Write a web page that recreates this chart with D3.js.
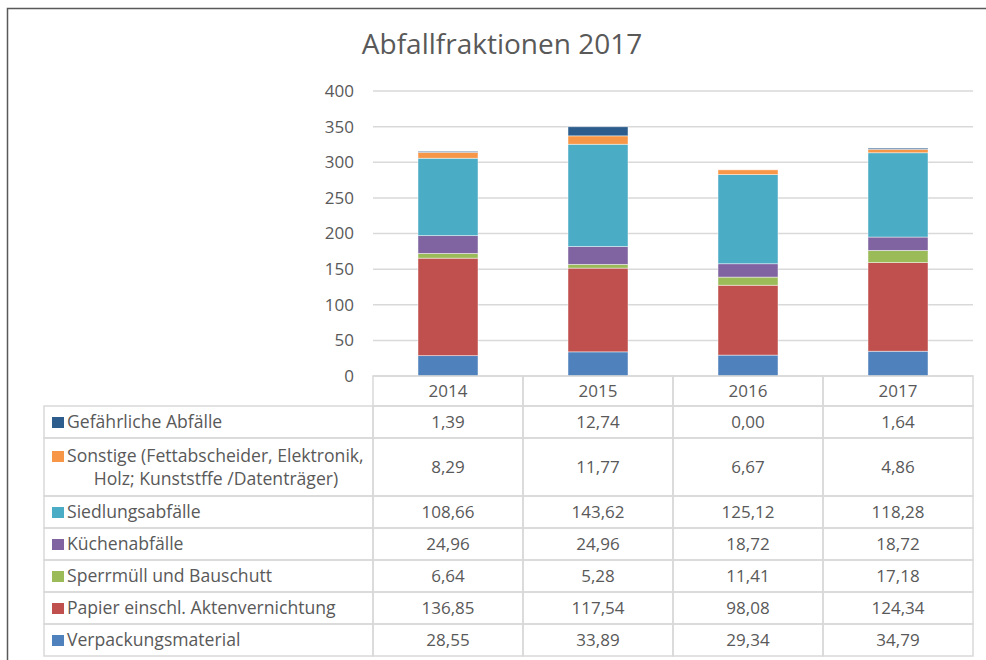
<!doctype html>
<html>
<head>
<meta charset="utf-8">
<title>Abfallfraktionen 2017</title>
<script src="https://d3js.org/d3.v7.min.js"></script>
<style>
  body { margin: 0; background: #fff; }
  svg text { font-family: "Open Sans", "Noto Sans", sans-serif; fill: #595959; }
  .grid line { stroke: #d9d9d9; stroke-width: 1.5px; }
  .cell { stroke: #d9d9d9; stroke-width: 1.5px; fill: none; }
</style>
</head>
<body>
<script>
// data
var years = ["2014", "2015", "2016", "2017"];

// series, bottom of the stack first
var seriesNames = [
  "Verpackungsmaterial",
  "Papier einschl. Aktenvernichtung",
  "Sperrmüll und Bauschutt",
  "Küchenabfälle",
  "Siedlungsabfälle",
  "Sonstige (Fettabscheider, Elektronik,|Holz; Kunststffe /Datenträger)",
  "Gefährliche Abfälle"
];
var verpackung = [28.55, 33.89, 29.34, 34.79];
var papier = [136.85, 117.54, 98.08, 124.34];
var sperrmuell = [6.64, 5.28, 11.41, 17.18];
var kuechen = [24.96, 24.96, 18.72, 18.72];
var siedlung = [108.66, 143.62, 125.12, 118.28];
var sonstige = [8.29, 11.77, 6.67, 4.86];
var gefaehrlich = [1.39, 12.74, 0.00, 1.64];
var seriesValues = [verpackung, papier, sperrmuell, kuechen, siedlung, sonstige, gefaehrlich];
var colors = ["#4f81bd", "#c0504d", "#9bbb59", "#8064a2", "#4bacc6", "#f79646", "#2c5d8c"];
var yTicks = [0, 50, 100, 150, 200, 250, 300, 350, 400];

var w = 986, h = 660;

var svg = d3.select("body")
  .append("svg")
  .attr("width", w)
  .attr("height", h);

// outer frame of the chart object
svg.append("rect")
  .attr("x", 7.5)
  .attr("y", 8.5)
  .attr("width", 1000)
  .attr("height", 700)
  .attr("fill", "none")
  .attr("stroke", "#595959")
  .attr("stroke-width", 1.5);

svg.append("text")
  .attr("x", 502)
  .attr("y", 54)
  .attr("text-anchor", "middle")
  .style("font-size", "28px")
  .text("Abfallfraktionen 2017");

var x = d3.scaleBand()
  .domain(years)
  .range([373, 973])
  .padding(0);

var y = d3.scaleLinear()
  .domain([0, 400])
  .range([376, 91]);

// gridlines
svg.append("g")
  .attr("class", "grid")
  .selectAll("line")
  .data(yTicks)
  .enter().append("line")
  .attr("x1", x.range()[0])
  .attr("x2", x.range()[1])
  .attr("y1", function(d) { return y(d); })
  .attr("y2", function(d) { return y(d); });

// y axis labels
var yAxis = d3.axisLeft(y).tickValues(yTicks).tickSize(0).tickPadding(0);
var gy = svg.append("g")
  .attr("transform", "translate(354,0)")
  .call(yAxis);
gy.select(".domain").remove();
gy.selectAll("text")
  .attr("x", 0)
  .style("font-size", "17px")
  .style("font-family", "'Open Sans', sans-serif")
  .attr("fill", "#595959");

// stacked bars
var table = years.map(function(yr, i) {
  var row = { year: yr };
  seriesNames.forEach(function(s, j) { row[s] = seriesValues[j][i]; });
  return row;
});
var stack = d3.stack().keys(seriesNames)(table);
var barW = x.bandwidth() * 0.4;

svg.append("g")
  .selectAll("g")
  .data(stack)
  .enter().append("g")
  .attr("fill", function(d, i) { return colors[i]; })
  .selectAll("rect")
  .data(function(d) { return d; })
  .enter().append("rect")
  .attr("x", function(d) { return x(d.data.year) + (x.bandwidth() - barW) / 2; })
  .attr("width", barW)
  .attr("y", function(d) { return y(d[1]); })
  .attr("height", function(d) { return y(d[0]) - y(d[1]); })
  .attr("stroke", "#ffffff")
  .attr("stroke-opacity", 0.6)
  .attr("stroke-width", 0.75);

// data table below the plot
var headerTop = 376, headerH = 30;
var rowH = [32, 58, 32, 32, 32, 32, 32];   // top row first
var tableLeft = 44;
var order = d3.range(seriesNames.length).reverse();  // top row = last series

var gt = svg.append("g");

// header row with years
years.forEach(function(yr) {
  gt.append("rect")
    .attr("class", "cell")
    .attr("x", x(yr))
    .attr("y", headerTop)
    .attr("width", x.bandwidth())
    .attr("height", headerH);
  gt.append("text")
    .attr("x", x(yr) + x.bandwidth() / 2)
    .attr("y", headerTop + headerH / 2)
    .attr("dy", "0.36em")
    .attr("text-anchor", "middle")
    .style("font-size", "17px")
    .text(yr);
});

var fmt = function(v) { return d3.format(".2f")(v).replace(".", ","); };

var rowTop = headerTop + headerH;
order.forEach(function(si, r) {
  var rh = rowH[r];
  var cy = rowTop + rh / 2;
  gt.append("rect")
    .attr("class", "cell")
    .attr("x", tableLeft)
    .attr("y", rowTop)
    .attr("width", x.range()[0] - tableLeft)
    .attr("height", rh);

  // legend key
  var lines = seriesNames[si].split("|");
  var firstY = lines.length > 1 ? cy - 11 : cy;
  gt.append("rect")
    .attr("x", 52)
    .attr("y", firstY - 5)
    .attr("width", 12)
    .attr("height", 11)
    .attr("fill", colors[si]);
  if (lines.length === 1) {
    gt.append("text")
      .attr("x", 67)
      .attr("y", cy)
      .attr("dy", "0.36em")
      .style("font-size", "17.6px")
      .text(lines[0]);
  } else {
    lines.forEach(function(l, k) {
      gt.append("text")
        .attr("x", k === 0 ? 67 : 216)
        .attr("y", cy - 11 + k * 23)
        .attr("dy", "0.36em")
        .attr("text-anchor", k === 0 ? "start" : "middle")
        .style("font-size", "17.6px")
        .text(l);
    });
  }

  years.forEach(function(yr, i) {
    gt.append("rect")
      .attr("class", "cell")
      .attr("x", x(yr))
      .attr("y", rowTop)
      .attr("width", x.bandwidth())
      .attr("height", rh);
    gt.append("text")
      .attr("x", x(yr) + x.bandwidth() / 2)
      .attr("y", cy)
      .attr("dy", "0.36em")
      .attr("text-anchor", "middle")
      .style("font-size", "17px")
      .text(fmt(seriesValues[si][i]));
  });
  rowTop += rh;
});
</script>
</body>
</html>
